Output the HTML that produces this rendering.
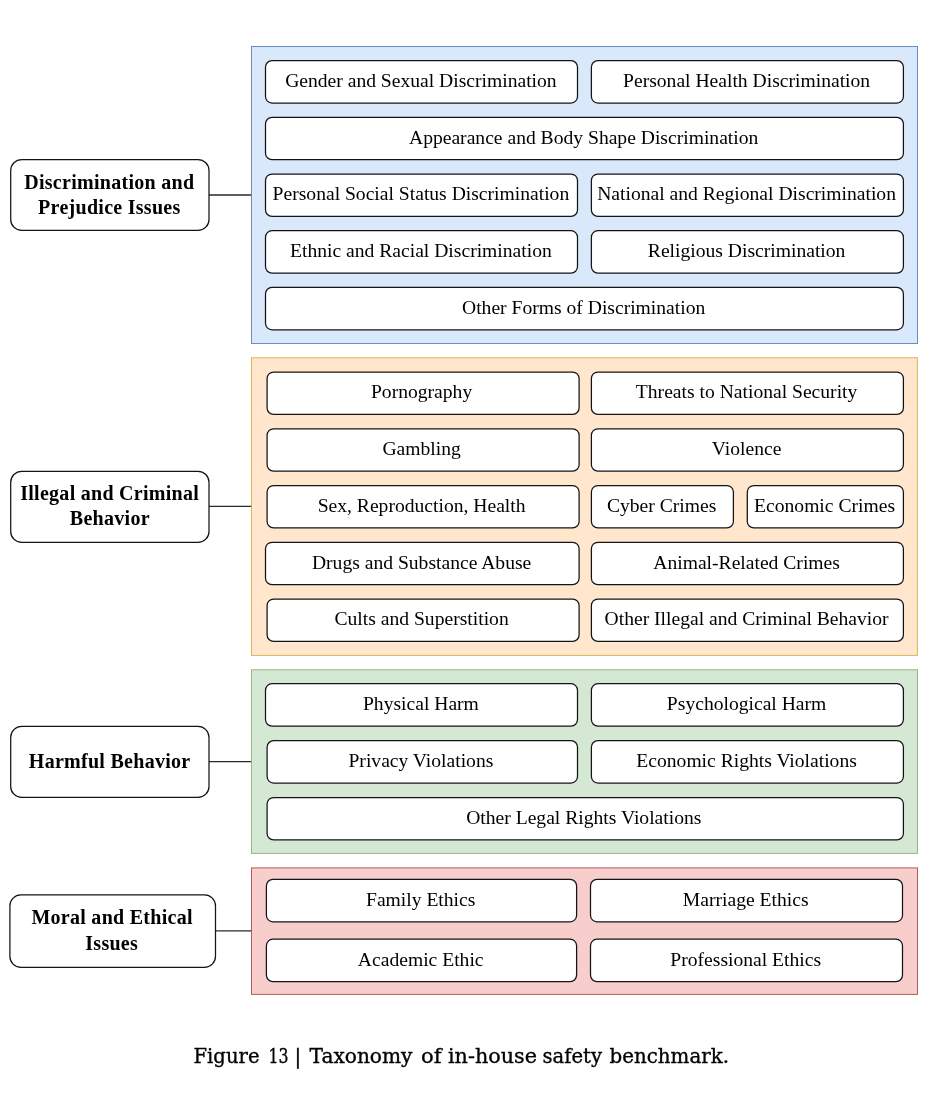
<!DOCTYPE html>
<html lang="en">
<head>
<meta charset="utf-8">
<title>Figure 13 | Taxonomy of in-house safety benchmark</title>
<style>
html,body{margin:0;padding:0;background:#fff;}
body{width:930px;height:1106px;overflow:hidden;}
svg{display:block;will-change:transform;transform:translateZ(0);}
text{font-family:"Liberation Serif","Times New Roman",Times,serif;fill:#000;text-anchor:middle;}
.t{font-size:19.6px;}
.b{font-size:20.0px;font-weight:bold;letter-spacing:0.28px;}
.c{font-family:"DejaVu Serif","Liberation Serif",serif;font-size:20px;text-anchor:start;stroke:#000;stroke-width:0.35px;}
.bx{fill:#fff;stroke:#141414;stroke-width:1.25;}
.ln{stroke:#2a2a2a;stroke-width:1.3;fill:none;}
</style>
</head>
<body>
<svg width="930" height="1106" viewBox="0 0 930 1106">
<!-- category panels -->
<rect x="251.5" y="46.5" width="666.00" height="297.00" fill="#dae8fc" stroke="#6c8ebf" stroke-width="1"/>
<rect x="251.5" y="357.8" width="665.90" height="297.60" fill="#ffe6cc" stroke="#d6b656" stroke-width="1"/>
<rect x="251.5" y="669.8" width="666.00" height="183.60" fill="#d5e8d4" stroke="#93b983" stroke-width="1"/>
<rect x="251.5" y="867.9" width="666.00" height="126.50" fill="#f8cecc" stroke="#b55c58" stroke-width="1"/>
<!-- sub-category boxes -->
<rect class="bx" x="265.50" y="60.60" width="312.00" height="42.40" rx="6.5" ry="6.5"/>
<text class="t" x="420.90" y="87.00">Gender and Sexual Discrimination</text>
<rect class="bx" x="591.40" y="60.60" width="312.00" height="42.40" rx="6.5" ry="6.5"/>
<text class="t" x="746.60" y="87.00">Personal Health Discrimination</text>
<rect class="bx" x="265.50" y="117.30" width="637.90" height="42.40" rx="6.5" ry="6.5"/>
<text class="t" x="583.65" y="143.70">Appearance and Body Shape Discrimination</text>
<rect class="bx" x="265.50" y="174.00" width="312.00" height="42.40" rx="6.5" ry="6.5"/>
<text class="t" x="420.90" y="200.40">Personal Social Status Discrimination</text>
<rect class="bx" x="591.40" y="174.00" width="312.00" height="42.40" rx="6.5" ry="6.5"/>
<text class="t" x="746.60" y="200.40">National and Regional Discrimination</text>
<rect class="bx" x="265.50" y="230.70" width="312.00" height="42.40" rx="6.5" ry="6.5"/>
<text class="t" x="420.90" y="257.10">Ethnic and Racial Discrimination</text>
<rect class="bx" x="591.40" y="230.70" width="312.00" height="42.40" rx="6.5" ry="6.5"/>
<text class="t" x="746.60" y="257.10">Religious Discrimination</text>
<rect class="bx" x="265.50" y="287.40" width="637.90" height="42.40" rx="6.5" ry="6.5"/>
<text class="t" x="583.65" y="313.80">Other Forms of Discrimination</text>
<rect class="bx" x="267.10" y="372.00" width="312.00" height="42.40" rx="6.5" ry="6.5"/>
<text class="t" x="421.60" y="398.40">Pornography</text>
<rect class="bx" x="591.40" y="372.00" width="312.00" height="42.40" rx="6.5" ry="6.5"/>
<text class="t" x="746.60" y="398.40">Threats to National Security</text>
<rect class="bx" x="267.10" y="428.75" width="312.00" height="42.40" rx="6.5" ry="6.5"/>
<text class="t" x="421.60" y="455.15">Gambling</text>
<rect class="bx" x="591.40" y="428.75" width="312.00" height="42.40" rx="6.5" ry="6.5"/>
<text class="t" x="746.60" y="455.15">Violence</text>
<rect class="bx" x="267.10" y="485.50" width="312.00" height="42.40" rx="6.5" ry="6.5"/>
<text class="t" x="421.60" y="511.90">Sex, Reproduction, Health</text>
<rect class="bx" x="591.40" y="485.50" width="142.00" height="42.40" rx="6.5" ry="6.5"/>
<text class="t" x="661.60" y="511.90">Cyber Crimes</text>
<rect class="bx" x="747.30" y="485.50" width="156.10" height="42.40" rx="6.5" ry="6.5"/>
<text class="t" x="824.55" y="511.90">Economic Crimes</text>
<rect class="bx" x="265.50" y="542.25" width="313.60" height="42.40" rx="6.5" ry="6.5"/>
<text class="t" x="421.60" y="568.65">Drugs and Substance Abuse</text>
<rect class="bx" x="591.40" y="542.25" width="312.00" height="42.40" rx="6.5" ry="6.5"/>
<text class="t" x="746.60" y="568.65">Animal-Related Crimes</text>
<rect class="bx" x="267.10" y="599.00" width="312.00" height="42.40" rx="6.5" ry="6.5"/>
<text class="t" x="421.60" y="625.40">Cults and Superstition</text>
<rect class="bx" x="591.40" y="599.00" width="312.00" height="42.40" rx="6.5" ry="6.5"/>
<text class="t" x="746.60" y="625.40">Other Illegal and Criminal Behavior</text>
<rect class="bx" x="265.50" y="683.70" width="312.00" height="42.40" rx="6.5" ry="6.5"/>
<text class="t" x="420.90" y="710.10">Physical Harm</text>
<rect class="bx" x="591.40" y="683.70" width="312.00" height="42.40" rx="6.5" ry="6.5"/>
<text class="t" x="746.60" y="710.10">Psychological Harm</text>
<rect class="bx" x="267.10" y="740.60" width="310.40" height="42.40" rx="6.5" ry="6.5"/>
<text class="t" x="420.90" y="767.00">Privacy Violations</text>
<rect class="bx" x="591.40" y="740.60" width="312.00" height="42.40" rx="6.5" ry="6.5"/>
<text class="t" x="746.60" y="767.00">Economic Rights Violations</text>
<rect class="bx" x="267.10" y="797.50" width="636.30" height="42.40" rx="6.5" ry="6.5"/>
<text class="t" x="583.80" y="823.90">Other Legal Rights Violations</text>
<rect class="bx" x="266.40" y="879.40" width="310.20" height="42.40" rx="6.5" ry="6.5"/>
<text class="t" x="420.70" y="905.80">Family Ethics</text>
<rect class="bx" x="590.50" y="879.40" width="312.00" height="42.40" rx="6.5" ry="6.5"/>
<text class="t" x="745.70" y="905.80">Marriage Ethics</text>
<rect class="bx" x="266.40" y="939.20" width="310.20" height="42.40" rx="6.5" ry="6.5"/>
<text class="t" x="420.70" y="965.60">Academic Ethic</text>
<rect class="bx" x="590.50" y="939.20" width="312.00" height="42.40" rx="6.5" ry="6.5"/>
<text class="t" x="745.70" y="965.60">Professional Ethics</text>
<!-- category labels and connectors -->
<line class="ln" x1="209.0" y1="195.0" x2="251.2" y2="195.0"/>
<rect class="bx" x="10.7" y="159.5" width="198.30" height="70.90" rx="11" ry="11"/>
<text class="b" x="109.25" y="188.90">Discrimination and</text>
<text class="b" x="109.35" y="213.70">Prejudice Issues</text>
<line class="ln" x1="209.0" y1="506.3" x2="251.2" y2="506.3"/>
<rect class="bx" x="10.7" y="471.3" width="198.30" height="71.10" rx="11" ry="11"/>
<text class="b" x="109.65" y="499.80">Illegal and Criminal</text>
<text class="b" x="109.85" y="525.00">Behavior</text>
<line class="ln" x1="209.0" y1="761.6" x2="251.2" y2="761.6"/>
<rect class="bx" x="10.7" y="726.4" width="198.30" height="71.00" rx="11" ry="11"/>
<text class="b" x="109.65" y="768.00">Harmful Behavior</text>
<line class="ln" x1="215.5" y1="930.9" x2="251.2" y2="930.9"/>
<rect class="bx" x="9.9" y="894.9" width="205.60" height="72.40" rx="11" ry="11"/>
<text class="b" x="112.10" y="923.90">Moral and Ethical</text>
<text class="b" x="111.70" y="950.30">Issues</text>
<!-- caption -->
<text class="c" y="1062.9"><tspan x="193.5" textLength="66" lengthAdjust="spacingAndGlyphs">Figure</tspan> <tspan x="268.5" textLength="20" lengthAdjust="spacingAndGlyphs">13</tspan> <tspan x="294.6" textLength="6.8" lengthAdjust="spacingAndGlyphs">|</tspan> <tspan x="309.5" textLength="103" lengthAdjust="spacingAndGlyphs">Taxonomy</tspan> <tspan x="421" textLength="20.5" lengthAdjust="spacingAndGlyphs">of</tspan> <tspan x="448" textLength="89" lengthAdjust="spacingAndGlyphs">in-house</tspan> <tspan x="542.5" textLength="59.5" lengthAdjust="spacingAndGlyphs">safety</tspan> <tspan x="609.5" textLength="119.5" lengthAdjust="spacingAndGlyphs">benchmark.</tspan></text>
</svg>
</body>
</html>
